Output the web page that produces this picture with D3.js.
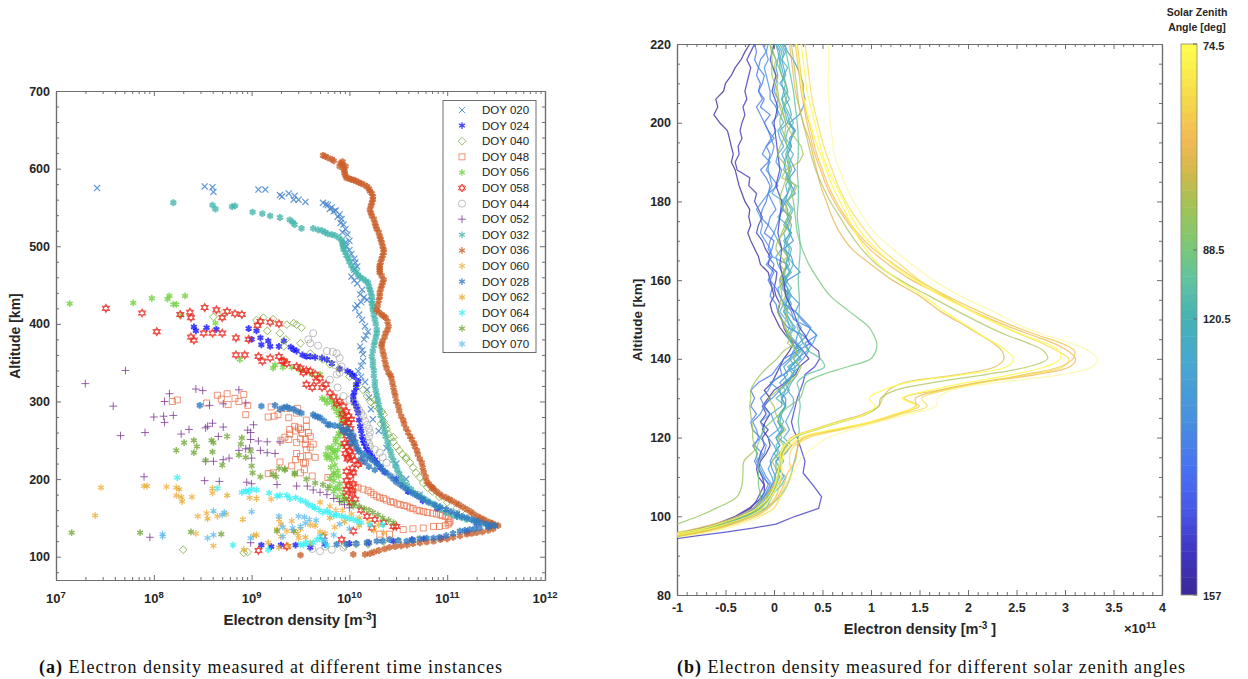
<!DOCTYPE html>
<html><head><meta charset="utf-8">
<script src="https://cdn.jsdelivr.net/npm/d3@7/dist/d3.min.js"></script>
<style>html,body{margin:0;background:#fff}svg{display:block}text{font-family:"Liberation Sans",Arial,sans-serif}</style>
</head><body><svg id="c" width="1248" height="679"></svg>
<script>
// ---------- panel (a): each pair is [log10 electron density, altitude km] ----------
const doy020=[[7.42,575],[8.52,577],[8.6,576],[8.61,570],[9.07,573],[9.14,573],[9.29,566],[9.31,564],[9.38,568],[9.44,565],[9.43,560],[9.48,560],[9.55,557],[9.73,556],[9.76,554],[9.78,553],[9.8,548],[9.82,550],[9.84,545],[9.86,546],[9.88,538],[9.9,541],[9.92,535],[9.91,530],[9.94,528],[9.96,522],[9.93,518],[9.98,515],[10,507],[9.96,505],[9.97,500],[10,495],[10.02,490],[10.05,484],[10.06,479],[10.08,474],[10.05,470],[10.02,461],[10.05,456],[10.08,452],[10.13,444],[10.11,438],[10.15,434],[10.18,431],[10.12,428],[10.08,424],[10.06,420],[10.1,412],[10.13,405],[10.16,397],[10.19,390],[10.17,385],[10.15,380],[10.11,371],[10.13,366],[10.14,361],[10.14,352],[10.12,346],[10.09,339],[10.12,332],[10.16,325],[10.18,315],[10.2,305],[10.22,290],[10.24,277],[10.3,262],[10.38,240],[10.48,220],[10.58,200],[10.72,180],[10.9,165],[11.1,155],[11.3,147]];
const doy024=[[8.41,396],[8.43,391],[8.54,395],[8.64,393],[8.97,394],[9.05,391],[9,380],[9.09,382],[9.1,373],[9.17,378],[9.19,371],[9.28,371],[9.33,378],[9.4,370],[9.43,367],[9.46,365],[9.52,360],[9.56,358],[9.6,358],[9.65,357],[9.72,356],[9.77,354],[9.82,349],[9.9,342],[9.98,339],[10.01,337],[10.03,334],[10.05,332],[10.09,326],[10.07,322],[10.07,318],[10.05,312],[10.04,307],[10.04,302],[10.05,298],[10.07,294],[10.08,290],[10.09,285],[10.1,276],[10.11,268],[10.12,262],[10.13,255],[10.14,250],[10.15,246],[10.17,242],[10.18,238],[10.21,234],[10.23,229],[10.26,225],[10.28,221],[10.32,215],[10.36,209],[10.48,200],[10.6,184],[10.75,172],[10.9,162],[11.1,152],[11.3,143],[11.44,139],[11.2,132],[10.94,124],[10.76,123],[10.64,122],[10.45,120],[10.2,118],[10,117],[9.75,116],[9.6,112],[9.45,115],[9.3,115],[9.2,113],[9.1,115]];
const doy040=[[8.3,109],[8.61,409],[8.71,414],[8.92,105],[8.96,106],[9.05,405],[9.12,408],[9.22,406],[9.36,399],[9.46,399],[9.16,391],[9.29,388],[9.33,371],[9.5,375],[9.43,401],[9.51,395],[9.35,380],[9.6,362],[9.73,354],[9.8,348],[9.9,342],[10,332],[10.08,322],[10.14,315],[10.18,307],[10.22,299],[10.26,295],[10.3,291],[10.33,287],[10.35,283],[10.35,274],[10.37,269],[10.38,264],[10.4,258],[10.42,253],[10.45,248],[10.48,242],[10.51,237],[10.54,232],[10.58,226],[10.62,221],[10.65,215],[10.68,208],[10.72,202],[10.755,195],[10.8,189],[10.85,184],[10.92,177],[11,170],[11.1,163],[11.2,156],[10.07,116],[10.19,116],[10.35,120],[10.5,119],[10.7,122],[9.95,114],[10.32,271],[10.26,302],[10.45,254],[10.58,228]];
const doy048=[[8.19,300],[8.24,302],[8.54,298],[8.65,308],[8.69,303],[8.75,310],[8.76,296],[8.83,304],[8.87,300],[8.92,309],[8.96,295],[8.94,283],[9.2,293],[9.17,280],[9.23,281],[9.27,283],[9.35,291],[9.47,291],[9.38,279],[9.56,276],[9.39,264],[9.44,268],[9.48,266],[9.56,268],[9.39,258],[9.45,262],[9.52,259],[9.3,250],[9.34,254],[9.38,251],[9.46,247],[9.5,252],[9.55,251],[9.6,255],[9.46,233],[9.56,238],[9.6,241],[9.29,222],[9.45,225],[9.5,229],[9.55,221],[9.41,217],[9.54,212],[9.22,208],[9.17,207],[9.5,208],[9.46,285],[9.5,264],[9.58,260],[9.55,245],[9.63,245],[9.58,230],[9.65,228],[9.53,221],[9.62,204],[9.78,202],[10,193],[10.03,192],[10.06,190],[10.09,189],[10.14,187],[10.19,185],[10.22,183],[10.25,180],[10.28,178],[10.31,176],[10.35,175],[10.38,173],[10.42,171],[10.45,170],[10.49,168],[10.52,167],[10.56,166],[10.59,165],[10.62,163],[10.65,162],[10.69,160],[10.72,159],[10.76,158],[10.8,157],[10.85,156],[10.89,155],[10.93,154],[10.95,153],[10.98,152],[11.01,149],[11.03,146],[11.02,144],[11.01,142],[10.98,140],[10.92,139],[10.86,139],[10.755,137],[10.65,136],[10.55,135],[10.41,129],[10.31,129]];
const doy056=[[7.14,426],[7.79,427],[7.98,433],[8.14,432],[8.16,436],[8.2,425],[8.23,425],[8.32,436],[8.28,411],[8.63,401],[8.88,354],[9.24,347],[9.22,343],[9.32,344],[9.41,344],[9.5,340],[9.62,335],[9.7,335],[9.72,304],[9.75,302],[9.77,298],[9.8,304],[9.82,299],[9.87,296],[9.84,292],[9.9,290],[9.87,287],[9.92,285],[9.89,282],[9.94,281],[9.96,276],[9.92,274],[9.96,272],[9.9,268],[9.93,262],[9.89,259],[9.9,255],[9.86,252],[9.86,247],[9.91,244],[9.82,241],[9.78,240],[9.88,238],[9.83,236],[9.85,234],[9.76,232],[9.8,230],[9.87,228],[9.82,225],[9.77,227],[9.85,218],[9.81,215],[9.88,211],[9.84,208],[9.89,204],[9.84,205],[9.8,201],[9.84,198],[9.9,194],[9.8,191],[9.86,189],[9.9,187],[9.84,184],[9.93,180],[9.88,177],[9.97,174],[9.92,171],[10,168],[10.04,165]];
const doy058=[[7.51,420],[7.88,414],[8.03,390],[8.27,412],[8.37,415],[8.38,408],[8.52,421],[8.64,418],[8.7,408],[8.75,416],[8.83,413],[8.9,412],[8.51,388],[8.6,388],[8.7,388],[8.38,383],[8.41,379],[8.84,382],[8.97,380],[9.06,398],[9.09,403],[9.19,402],[9.28,400],[8.84,360],[8.93,360],[9.07,358],[9.11,352],[9.19,356],[9.28,358],[9.33,352],[9.36,349],[9.46,345],[9.53,337],[9.56,322],[9.6,339],[9.31,352],[9.5,343],[9.56,340],[9.65,335],[9.7,330],[9.66,326],[9.62,318],[9.76,322],[9.72,318],[9.8,311],[9.84,306],[9.9,300],[9.87,297],[9.94,294],[9.97,287],[9.93,284],[9.99,281],[10.02,277],[9.94,276],[9.99,273],[9.96,268],[10.01,265],[9.94,262],[9.99,260],[9.97,256],[10.03,253],[10.01,247],[9.95,246],[9.97,242],[10.04,240],[10,236],[9.96,233],[10.03,230],[9.99,228],[10.05,224],[9.98,226],[10.09,219],[10.12,222],[10.03,214],[9.97,210],[10.04,208],[10.01,204],[9.97,198],[10.04,194],[9.99,191],[9.97,187],[10.03,185],[10.03,181],[9.97,178],[10.06,174],[10.02,170],[10.12,160],[10.18,152],[10.26,148],[10.35,144],[10.45,139],[9.07,108],[9.36,113],[9.73,126],[9.92,122],[10.04,133],[10.23,137],[10.48,139]];
const doy044=[[9.63,388],[9.6,375],[9.58,380],[9.68,372],[9.77,365],[9.83,364],[9.87,362],[9.9,356],[9.85,347],[9.92,345],[9.87,335],[9.9,337],[9.8,328],[9.88,318],[9.94,307],[10,302],[10.06,298],[10.08,293],[10.1,289],[10.12,285],[10.14,281],[10.16,275],[10.18,270],[10.2,265],[10.21,260],[10.2,255],[10.18,250],[10.2,246],[10.21,242],[10.26,238],[10.31,234],[10.34,228],[10.38,221],[10.5,205],[10.7,180],[11,158],[11.3,146],[9.7,107],[9.82,109],[9.94,112],[10.19,118],[9.62,110],[9.75,113]];
const doy052=[[7.3,323],[7.71,340],[7.585,294],[7.66,256],[7.91,260],[8,280],[8.1,281],[8.2,282],[8.11,273],[8.11,300],[8.16,310],[8.43,316],[8.5,314],[8.87,315],[8.57,295],[8.71,297],[8.94,298],[8.36,264],[8.28,258],[8.53,266],[8.6,272],[8.71,267],[9.02,270],[8.99,260],[8.66,255],[8.99,251],[9.07,249],[9.16,248],[9.29,248],[8.61,223],[8.71,225],[8.77,227],[8.87,237],[8.94,239],[9.09,237],[9,227],[9.16,234],[9.24,233],[7.9,203],[8.52,198],[8.67,197],[8.95,196],[9,194],[9.26,193],[9.46,191],[9.57,191],[7.96,125],[8.99,118],[9.63,186],[9.7,183],[9.77,180],[9.84,175],[9.9,171],[9.95,167],[10,163],[8.55,268],[8.96,263],[8.53,223],[8.98,240]];
const doy032=[[8.2,556],[8.6,553],[8.63,548],[8.8,551],[8.83,552],[9.01,544],[9.11,542],[9.19,539],[9.29,537],[9.39,534],[9.42,531],[9.44,528],[9.51,523],[9.63,523],[9.68,521],[9.72,520],[9.75,518],[9.78,516],[9.82,515],[9.85,514],[9.89,511],[9.92,508],[9.93,505],[9.93,502],[9.94,499],[9.94,496],[9.96,492],[9.97,488],[9.99,484],[10,480],[10.02,475],[10.04,471],[10.07,467],[10.09,463],[10.11,460],[10.14,458],[10.17,455],[10.19,453],[10.2,448],[10.21,444],[10.22,440],[10.23,435],[10.23,430],[10.23,426],[10.24,422],[10.24,418],[10.25,412],[10.26,406],[10.27,400],[10.28,393],[10.28,388],[10.27,383],[10.26,377],[10.25,372],[10.24,365],[10.23,358],[10.24,352],[10.24,346],[10.25,340],[10.25,333],[10.26,326],[10.26,320],[10.27,314],[10.28,308],[10.29,302],[10.3,296],[10.31,289],[10.32,282],[10.34,275],[10.35,268],[10.36,261],[10.37,255],[10.39,248],[10.4,242],[10.42,236],[10.43,230],[10.45,224],[10.47,217],[10.49,212],[10.51,207],[10.53,202],[10.55,197],[10.59,192],[10.63,187],[10.67,182],[10.72,178],[10.76,175],[10.8,172],[10.85,168],[10.89,165],[10.94,161],[10.99,157],[11.05,154],[11.1,152],[11.15,150],[11.2,148],[11.27,146],[11.33,144],[11.4,142],[11.47,140]];
const doy036=[[9.73,617],[9.75,616],[9.78,614],[9.82,612],[9.84,610],[9.91,607],[9.93,609],[9.9,603],[9.93,605],[9.94,600],[9.96,603],[9.95,597],[9.95,594],[9.96,591],[9.97,588],[10,587],[10.02,586],[10.05,585],[10.07,584],[10.1,582],[10.12,581],[10.15,579],[10.18,577],[10.2,574],[10.21,571],[10.23,568],[10.24,564],[10.24,560],[10.23,556],[10.22,552],[10.21,547],[10.22,543],[10.23,539],[10.25,535],[10.26,530],[10.27,526],[10.28,522],[10.3,518],[10.31,513],[10.32,509],[10.33,505],[10.34,500],[10.35,496],[10.35,492],[10.34,488],[10.33,484],[10.32,479],[10.31,475],[10.31,472],[10.31,469],[10.31,466],[10.33,462],[10.35,457],[10.34,453],[10.33,449],[10.32,445],[10.31,440],[10.31,435],[10.3,430],[10.29,424],[10.28,418],[10.3,415],[10.33,412],[10.35,410],[10.37,408],[10.39,403],[10.4,397],[10.39,392],[10.37,388],[10.36,383],[10.34,378],[10.33,374],[10.33,371],[10.34,365],[10.35,360],[10.36,354],[10.37,348],[10.38,343],[10.4,337],[10.42,334],[10.43,330],[10.44,324],[10.45,318],[10.46,312],[10.47,307],[10.48,300],[10.5,294],[10.51,288],[10.53,281],[10.55,276],[10.56,271],[10.58,265],[10.6,260],[10.62,255],[10.64,251],[10.66,246],[10.67,242],[10.69,237],[10.7,232],[10.72,226],[10.74,221],[10.75,215],[10.76,209],[10.78,203],[10.79,197],[10.81,194],[10.83,191],[10.85,189],[10.86,187],[10.89,184],[10.92,181],[10.95,178],[10.99,176],[11.02,174],[11.05,172],[11.09,169],[11.12,167],[11.16,164],[11.2,161],[11.24,158],[11.27,155],[11.31,152],[11.34,150],[11.37,148],[11.4,146],[11.44,144],[11.46,143],[11.49,141],[11.52,140],[11.47,136],[11.42,134],[11.36,132],[11.3,131],[11.25,130],[11.2,129],[11.13,127],[11.06,125],[11,123],[10.93,122],[10.86,120],[10.79,119],[10.72,118],[10.65,117],[10.59,115],[10.53,114],[10.47,113],[10.41,112],[10.36,110],[10.3,108],[10.25,106],[10.21,104],[10.16,103],[10.04,103],[9.5,102]];
const doy060=[[7.46,189],[7.9,191],[8.13,190],[8.23,189],[8.23,179],[8.39,177],[8.6,182],[8.98,176],[9.2,174],[8.45,152],[8.54,156],[8.65,152],[8.74,155],[8.43,130],[8.61,114],[9.28,148],[9.41,146],[9.48,124],[9.7,170],[9.8,165],[9.86,160],[9.93,160],[10.02,155],[10.1,150],[10.2,145],[10.3,141],[9.6,141],[9.7,132],[9.85,138],[9.3,126],[9.36,133]];
const doy028=[[8.47,295],[9.1,294],[9.24,295],[9.29,290],[9.33,292],[9.36,293],[9.39,291],[9.43,290],[9.47,287],[9.51,285],[9.63,283],[9.65,281],[9.68,280],[9.7,279],[9.74,275],[9.78,270],[9.8,270],[9.85,269],[9.9,268],[9.93,263],[9.96,260],[9.98,265],[10.01,260],[10.04,256],[10.04,250],[10.07,242],[10,255],[10.1,235],[10.02,246],[10.06,248],[10.14,232],[10.09,238],[10.18,230],[10.12,226],[10.21,227],[10.16,222],[10.24,224],[10.28,220],[10.2,216],[10.31,217],[10.26,212],[10.34,212],[10.38,208],[10.42,204],[10.45,200],[10.48,196],[10.52,193],[10.55,190],[10.585,187],[10.63,183],[10.67,180],[10.71,177],[10.755,174],[10.81,170],[10.87,167],[10.93,164],[10.99,161],[11.04,158],[11.1,155],[11.15,152],[11.2,150],[11.25,148],[11.3,146],[11.35,144],[11.4,142],[11.45,141],[11.49,140],[11.42,138],[11.33,137],[11.28,136],[11.23,135],[11.18,134],[11.13,133],[11.06,130],[10.99,127],[10.92,125],[10.86,124],[10.79,124],[10.72,123],[10.65,121],[10.585,120],[10.5,121],[10.41,122],[10.34,120],[10.28,120],[10.18,118],[10.07,117],[9.97,116],[9.87,116]];
const doy062=[[7.4,153],[7.93,191],[8.26,187],[8.28,177],[8.29,171],[8.6,188],[8.75,179],[9.05,175],[8.91,148],[8.55,149],[8.92,109],[9.05,128],[9.02,127],[9.26,135],[9.43,133],[9.17,118],[9.28,112],[9.38,114],[9.55,125],[9.65,140],[9.8,150],[9.95,145],[10.1,140],[10.25,134],[10.35,131],[9.6,118],[9.75,130],[9.47,130],[9.5,136],[9.3,142]];
const doy064=[[8.24,202],[8.65,188],[8.9,183],[8.94,185],[8.97,184],[9,187],[9.05,186],[9.18,182],[9.26,178],[9.29,179],[9.36,179],[9.39,175],[9.45,176],[9.5,173],[9.55,171],[9.58,167],[9.62,165],[9.65,163],[9.69,160],[9.73,157],[9.77,159],[9.8,156],[9.84,153],[9.87,154],[9.92,152],[9.96,151],[10,149],[10.04,148],[10.08,146],[10.12,144],[10.21,141],[10.34,141],[8.81,115],[9.17,109],[9.5,116],[9.56,118],[9.53,115],[9.63,118],[9.67,122],[9.7,126],[9.77,115],[9.72,121]];
const doy066=[[7.16,131],[7.86,131],[8.23,237],[8.31,247],[8.41,250],[8.44,242],[8.41,234],[8.53,224],[8.59,250],[8.61,247],[8.6,235],[8.7,218],[8.75,255],[8.9,253],[8.89,245],[8.87,231],[8.94,228],[8.99,236],[9,217],[9.01,208],[9.09,203],[9.22,206],[9.25,203],[9.34,212],[9.28,214],[9.44,208],[9.56,200],[8.38,132],[8.69,129],[9.26,133],[9.43,133],[9.34,213],[9.44,206],[9.65,195],[9.73,193],[9.78,188],[9.95,174],[10.05,168],[10.1,165],[10.15,162],[10.2,160],[10.24,157],[10.29,154],[10.34,150],[10.4,147],[10.45,144]];
const doy070=[[8.09,126],[8.09,129],[8.55,124],[8.61,128],[8.61,159],[8.7,154],[8.72,157],[9,158],[8.99,124],[9.28,152],[9.32,138],[9.32,126],[9.48,152],[9.54,151],[9.59,148],[9.5,139],[9.42,137],[9.66,147],[9.75,122],[9.84,128],[9.55,143],[9.9,142],[10,136]];
const doyNames=["DOY 020","DOY 024","DOY 040","DOY 048","DOY 056","DOY 058","DOY 044","DOY 052","DOY 032","DOY 036","DOY 060","DOY 028","DOY 062","DOY 064","DOY 066","DOY 070"];
const doyData=[doy020,doy024,doy040,doy048,doy056,doy058,doy044,doy052,doy032,doy036,doy060,doy028,doy062,doy064,doy066,doy070];
const doyColors=["#3d7fc9","#1212ff","#7dab3a","#ea6a42","#6fd03c","#e9281e","#9c9c9c","#7e3a96","#45b5ad","#cb5f2b","#edb040","#2d78bf","#e6a92c","#35f0f4","#72a63a","#5cbcf0"];
const doyMarks=["x","*","d","s","*","h","o","+","*","*","*","*","*","*","*","*"];
const doyStroke=[1.2,1.9,1,.9,1.6,1.1,.8,1,2.2,2.3,1.3,2.2,1.3,1.6,1.5,1.3];
const altTicksA=[100,200,300,400,500,600,700];
const neTicks=[7,8,9,10,11,12];

// ---------- panel (b): values in units of 1e9 m^-3, one per altitude level ----------
const levels=[94,95,96,97,98,100,102,105,108,111,114,117,120,122,124,126,128,130,132,134,136,138,140,142,144,146,148,152,156,160,164,168,172,176,180,184,188,192,196,200,204,208,212,216,220];
const levelsFine=[94,95,96,97,98].concat(d3.range(100,222,2));
const sunA=[-150,-125,-98,-78,-62,-38,-22,-8,0,5,8,10,18,40,65,92,108,112,118,135,190,228,237,235,226,213,200,172,150,122,100,80,68,60,54,48,44,40,36,30,26,22,20,18,16];
const sunB=[-145,-120,-92,-72,-58,-34,-18,-5,1,4,6,8,20,42,68,95,104,98,112,138,195,240,247,240,228,214,202,176,154,128,108,94,84,76,68,60,54,48,42,37,33,29,27,25,23];
const sunC=[-140,-115,-90,-70,-56,-32,-16,-4,2,5,7,10,22,44,70,96,108,110,125,165,218,262,282,278,262,240,222,190,160,130,106,90,78,68,58,50,43,38,34,30,26,24,22,20,18];
const sunD=[-136,-110,-84,-64,-50,-26,-12,-2,4,8,8,12,28,60,100,125,147,132,160,200,245,280,295,294,280,258,238,205,172,145,122,105,90,80,72,64,56,50,46,42,38,34,32,30,28];
const sunE=[-128,-104,-80,-60,-46,-22,-8,2,6,8,6,14,32,66,102,128,150,134,168,212,258,295,308,310,296,272,250,212,178,148,124,102,86,74,64,56,50,44,40,36,32,30,28,26,24];
const sunF=[-124,-100,-76,-58,-44,-20,-6,4,10,14,22,24,30,64,100,126,146,146,172,212,270,305,311,303,288,266,244,206,174,142,118,98,84,72,62,54,48,42,38,34,31,28,26,24,22];
const sunH=[-118,-96,-72,-54,-40,-16,0,6,12,18,16,18,36,70,104,132,158,152,176,216,262,298,304,292,276,256,238,204,176,150,130,110,96,84,74,66,60,54,49,45,41,38,36,34,32];
const sunG=[-112,-90,-66,-48,-34,-12,-1,8,14,20,26,38,56,80,108,140,167,169,182,232,296,328,333,325,306,280,258,226,192,164,142,122,104,92,82,74,68,62,60,58,57,56,56,56,56];
const greenPeak=[-132,-108,-86,-68,-54,-32,-18,-14,-16,-16,-17,-18,-14,-11,-3,6,16,27,30,33,50,76,100,105,106,103,98,78,58,46,36,29,24,22,20,17,16,14,12,6,10,14,8,2,-4];
const tealLine=[-126,-104,-82,-64,-50,-28,-10,6,14,18,21,24,25,26,25,26,27,26,26,24,34,52,48,36,30,28,24,26,26,25,26,27,26,24,25,25,24,25,25,24,22,20,17,14,11];
const oliveLine=[-165,-138,-122,-110,-100,-78,-60,-38,-33,-32,-31,-20,-22,-22,-23,-24,-25,-24,-24,-20,-14,-6,3,10,20,14,12,4,8,6,12,2,8,14,6,10,15,4,10,12,6,4,-2,-2,-4];
const indigoBump=[-110,-80,-50,-22,2,22,46,49,40,30,32,28,24,20,18,20,22,24,27,30,32,42,47,46,36,32,26,20,12,10,6,8,4,6,8,2,6,4,2,0,4,-2,2,-4,0];
const indigoA=[-135,-112,-92,-75,-60,-40,-26,-16,-10,-10,
 -12,-16,-14,-8,-4,-6,-12,-9,-4,-10,
 -4,-10,-2,2,6,10,16,20,12,6,
 2,-2,-4,0,-2,-4,-6,-14,-16,-20,
 -24,-27,-24,-26,-25,-30,-33,-36,-38,-40,
 -44,-42,-44,-46,-48,-56,-62,-58,-60,-52,
 -50,-44,-40,-34,-30,-25];
const indigoB=[-128,-106,-88,-70,-56,-38,-24,-18,-14,-10,
 -16,-18,-16,-14,-10,-12,-6,-14,-8,-12,
 -6,0,12,22,26,36,30,22,14,10,
 8,4,6,2,0,2,3,-6,-4,-9,
 -12,-18,-16,-12,-16,-20,-18,-26,-25,-38,
 -40,-36,-37,-33,-35,-33,-30,-32,-28,-30,
 -28,-26,-24,-28,-24,-20];
const blueA=[-132,-110,-88,-70,-54,-34,-20,-12,-8,-4,
 -12,-16,-20,-17,-22,-14,-22,-24,-18,-24,
 -20,-24,-16,-2,4,10,24,38,30,14,
 8,4,2,-4,-2,-6,-2,0,-6,-2,
 0,-10,-6,-14,-12,-8,-6,-4,-8,-14,
 -6,-4,-8,-3,-6,-10,-4,-14,-10,-16,
 -14,-18,-16,-20,-18,-20];
const blueF=[-129,-107,-87,-68,-54,-32,-20,-14,-10,-6,
 -10,-14,-18,-12,-20,-16,-18,-22,-14,-10,
 -14,-6,-2,8,6,16,20,26,34,38,
 30,22,10,6,2,-4,0,-8,-2,-6,
 -4,0,-6,-4,2,-2,-6,4,-2,-8,
 -4,-12,-8,0,-6,-10,-14,-18,-12,-16,
 -12,-10,-16,-14,-8,-12];
const blueB=[-138,-114,-92,-74,-58,-36,-22,-14,-6,-2,
 2,-2,-4,0,6,2,8,4,6,12,
 12,4,14,10,22,30,36,32,44,36,
 20,18,12,16,10,14,27,20,18,10,
 20,16,14,18,8,12,22,18,16,22,
 18,14,18,16,22,16,26,30,32,30,
 30,27,24,20,14,11];
const blueC=[-122,-100,-80,-62,-48,-30,-14,-8,-6,-2,
 -8,-12,-16,-10,-8,-14,-10,-14,-4,-12,
 -2,6,-4,10,18,24,34,40,44,36,
 28,22,26,18,10,6,10,14,-2,-4,
 -9,-14,-12,-14,-18,-12,-6,-2,-4,-6,
 -6,-2,0,-3,2,-2,4,2,-4,-4,
 -6,-8,-10,-6,-8,-6];
const blueD=[-126,-104,-84,-66,-52,-30,-16,-10,-6,0,
 -2,-6,-2,4,0,-6,4,0,-3,8,
 8,12,6,14,10,18,26,22,24,28,
 22,14,10,6,4,14,8,4,2,8,
 4,0,3,6,8,10,-2,2,6,8,
 2,4,10,6,4,10,6,2,4,0,
 2,4,2,4,6,2];
const blueE=[-120,-98,-78,-60,-46,-26,-12,-6,-2,4,
 10,6,2,12,18,10,16,12,16,20,
 20,14,18,24,16,28,20,30,26,18,
 12,6,10,14,8,12,10,16,14,10,
 12,10,14,4,10,8,14,12,16,10,
 12,8,14,10,6,14,12,10,16,12,
 6,12,10,8,12,8];
const tealA=[-130,-108,-86,-68,-52,-32,-18,-12,-8,2,
 6,2,2,8,14,4,10,6,8,12,
 8,16,10,20,14,26,30,24,16,22,
 16,12,18,14,14,8,16,12,16,18,
 12,16,18,14,14,10,14,18,12,16,
 14,12,16,18,20,16,14,10,8,10,
 8,10,8,6,8,4];
const tealB=[-124,-102,-82,-62,-48,-28,-14,-8,-4,2,
 0,4,6,0,6,2,10,4,6,12,
 8,6,14,20,22,16,24,18,12,16,
 14,10,12,18,14,10,18,12,14,16,
 10,18,12,16,20,14,18,22,14,18,
 16,20,14,18,22,14,18,16,12,10,
 12,8,6,6,4,2];
const tealC=[-118,-96,-76,-58,-44,-24,-8,-4,0,8,
 12,4,10,6,2,8,4,10,6,12,
 2,12,16,18,26,20,28,18,14,20,
 16,10,16,12,18,12,16,20,14,12,
 14,18,10,14,18,12,14,16,14,12,
 10,14,18,12,14,20,16,12,8,14,
 12,10,14,8,10,6];
const oliveB=[-126,-100,-78,-60,-48,-26,-14,-8,-6,0,
 4,2,-2,6,10,4,12,6,2,0,
 -6,4,16,24,28,20,24,14,18,10,
 12,14,8,12,10,8,12,6,14,8,
 4,10,16,18,12,14,20,24,8,12,
 26,30,28,22,16,12,10,8,4,2,
 4,2,0,2,-2,0];
const sunLines=[sunG,sunA,sunC,sunF,sunE,sunB,sunH,sunD];
const sunAngles=[76,82,85,81,80,75,78,75];
const sunAlpha=[.4,.8,.75,.8,.8,.85,.75,.85];
const fineLines=[indigoA,indigoB,blueA,blueF,blueB,blueC,blueD,blueE,tealA,tealB,tealC,oliveB];
const fineAngles=[157,152,139,137,135,133,130,127,124,121,118,85];
const smoothLines=[indigoBump,tealLine,greenPeak,oliveLine];
const smoothAngles=[150,105,89,86];
const barAngles=[74.5,88.5,120.5,157];
const barPositions=[44,250,319,595];
const barStopY=[44,100,140,170,200,240,280,319,360,420,470,510,550,595];
const barStopColors=["#ffff4e","#f5d84a","#f2b955","#d4b84a","#a9c154","#80c870","#61c2a0","#46b1b4","#48a8d0","#4890e0","#4870f2","#4858e8","#4035c2","#3a2a98"];
const altTicksB=[80,100,120,140,160,180,200,220];
const densTicksB=[-1,-.5,0,.5,1,1.5,2,2.5,3,3.5,4];

const svg=d3.select("#c");
const gray="#6e6e6e", ink="#262626";
const A={l:56,r:545,t:91,b:580}, B={l:677,r:1162,t:44,b:595};
const xA=d3.scaleLog().domain([1e7,1e12]).range([A.l,A.r]);
const yA=d3.scaleLinear().domain([70,700]).range([A.b,A.t]);
const xB=d3.scaleLinear().domain([-1,4]).range([B.l,B.r]);
const yB=d3.scaleLinear().domain([80,220]).range([B.b,B.t]);

function frame(P,x,y,xMaj,xMin,yMaj,yMin,xFmt,yFmt){
  const g=svg.append("g");
  const draw=(vals,len,fmtX,fmtY)=>{
    g.append("g").attr("transform",`translate(0,${P.b})`).call(d3.axisBottom(x).tickValues(vals.x).tickSizeInner(-len).tickSizeOuter(0).tickFormat(fmtX)).call(s=>s.selectAll("text").attr("y",8));
    g.append("g").attr("transform",`translate(0,${P.t})`).call(d3.axisTop(x).tickValues(vals.x).tickSizeInner(-len).tickSizeOuter(0).tickFormat(""));
    g.append("g").attr("transform",`translate(${P.l},0)`).call(d3.axisLeft(y).tickValues(vals.y).tickSizeInner(-len).tickSizeOuter(0).tickPadding(6).tickFormat(fmtY));
    g.append("g").attr("transform",`translate(${P.r},0)`).call(d3.axisRight(y).tickValues(vals.y).tickSizeInner(-len).tickSizeOuter(0).tickFormat(""));
  };
  draw({x:xMin,y:yMin},3,"","");
  draw({x:xMaj,y:yMaj},5,xFmt,yFmt);
  g.selectAll("path.domain").attr("stroke",gray).attr("stroke-width",1.2);
  g.selectAll("line").attr("stroke",gray);
  g.selectAll("text").attr("fill",ink).attr("font-size",12.5).attr("font-weight","bold").attr("font-family","Liberation Sans");
  return g;
}
// panel (a) axes
const minorLog=[];neTicks.slice(0,-1).forEach(e=>d3.range(2,10).forEach(m=>minorLog.push(m*10**e)));
frame(A,xA,yA,neTicks.map(e=>10**e),minorLog,altTicksA,d3.range(80,700,20).filter(v=>v%100),"",d3.format("d"));
neTicks.forEach(e=>{
  const t=svg.append("text").attr("x",xA(10**e)).attr("y",603).attr("text-anchor","middle").attr("font-weight","bold").attr("font-size",13).attr("fill",ink);
  t.append("tspan").text("10");
  t.append("tspan").attr("dy",-5).attr("font-size",9.5).text(e);
});
function eLabel(x,y,suffix,size){
  const t=svg.append("text").attr("x",x).attr("y",y).attr("text-anchor","middle").attr("font-weight","bold").attr("font-size",size).attr("fill",ink);
  t.append("tspan").text("Electron density [m");
  t.append("tspan").attr("dy",-5).attr("font-size",10).text("-3");
  t.append("tspan").attr("dy",5).text(suffix);
}
eLabel(300,625,"]",15);
svg.append("text").attr("transform","translate(20,336) rotate(-90)").attr("text-anchor","middle").attr("font-weight","bold").attr("font-size",14).attr("fill",ink).text("Altitude [km]");

// markers
const hex=()=>{const p=d3.path(),r=4;[0,1].forEach(o=>{d3.range(3).forEach(i=>{const a=(i*120+(o?60:0)-90)*Math.PI/180,px=r*Math.cos(a),py=r*Math.sin(a);i?p.lineTo(px,py):p.moveTo(px,py);});p.closePath();});return p.toString();};
const markPath={
 "x":d3.symbol(d3.symbolTimes,26)(),
 "*":d3.symbol(d3.symbolAsterisk,32)(),
 "+":d3.symbol(d3.symbolPlus,22)(),
 "d":d3.symbol(d3.symbolDiamond2,38)(),
 "s":d3.symbol(d3.symbolSquare2,46)(),
 "o":d3.symbol(d3.symbolCircle,40)(),
 "h":hex()
};
const legendWidth={"x":1,"*":1.3,"+":1,"d":.9,"s":.9,"o":.8,"h":1};
svg.append("clipPath").attr("id","ca").append("rect").attr("x",A.l).attr("y",A.t).attr("width",A.r-A.l).attr("height",A.b-A.t);
const plotA=svg.append("g").attr("clip-path","url(#ca)");
doyData.forEach((rows,i)=>{
  plotA.append("g").selectAll("path").data(rows).join("path")
    .attr("transform",d=>`translate(${xA(10**d[0])},${yA(d[1])})`)
    .attr("d",markPath[doyMarks[i]]).attr("fill","none")
    .attr("stroke",doyColors[i]).attr("stroke-width",doyStroke[i]).attr("stroke-opacity",.8);
});
// legend
const leg=svg.append("g");
leg.append("rect").attr("x",443).attr("y",100.5).attr("width",93).attr("height",252).attr("fill","#fff").attr("stroke",gray).attr("stroke-width",1);
const legY=d3.scalePoint().domain(doyNames).range([110,344]);
doyNames.forEach((n,i)=>{
  leg.append("path").attr("transform",`translate(462,${legY(n)})`).attr("d",markPath[doyMarks[i]]).attr("fill","none").attr("stroke",doyColors[i]).attr("stroke-width",legendWidth[doyMarks[i]]).attr("stroke-opacity",.8);
  leg.append("text").attr("x",482).attr("y",legY(n)+4).attr("font-size",11.5).attr("fill","#222").text(n);
});

// panel (b) axes
const minorB=d3.range(-10,41).map(v=>v/10).filter(v=>Math.abs(v*2%1)>1e-6);
frame(B,xB,yB,densTicksB,minorB,altTicksB,d3.range(85,220,5).filter(v=>v%20),v=>String(v),d3.format("d"));
eLabel(920,634," ]",14.5);
const mult=svg.append("text").attr("x",1124).attr("y",633).attr("font-weight","bold").attr("font-size",13).attr("fill",ink);
mult.append("tspan").text("×10");
mult.append("tspan").attr("dy",-5).attr("font-size",9.5).text("11");
svg.append("text").attr("transform","translate(642,320) rotate(-90)").attr("text-anchor","middle").attr("font-weight","bold").attr("font-size",13.5).attr("fill",ink).text("Altitude [km]");

const angleToY=d3.scaleLinear().domain(barAngles).range(barPositions);
const yToColor=d3.scaleLinear().domain(barStopY).range(barStopColors).interpolate(d3.interpolateRgb);
const lineB=d3.line().x(d=>xB(d[0]/100)).y(d=>yB(d[1]));
svg.append("clipPath").attr("id","cb").append("rect").attr("x",B.l).attr("y",B.t).attr("width",B.r-B.l).attr("height",B.b-B.t);
const plotB=svg.append("g").attr("clip-path","url(#cb)");
const drawLine=(vals,alts,ang,op,curve)=>plotB.append("path").datum(vals.map((v,i)=>[v,alts[i]]))
  .attr("d",lineB.curve(curve)).attr("fill","none").attr("stroke",yToColor(angleToY(ang))).attr("stroke-width",1.25).attr("stroke-opacity",op).attr("stroke-linejoin","round");
fineLines.forEach((v,i)=>drawLine(v,levelsFine,fineAngles[i],.8,d3.curveLinear));
smoothLines.forEach((v,i)=>drawLine(v,levels,smoothAngles[i],.8,i?d3.curveCatmullRom:d3.curveLinear));
sunLines.forEach((v,i)=>drawLine(v,levels,sunAngles[i],sunAlpha[i],d3.curveCatmullRom));

// colour bar
const barX=1181,barW=16;
const cells=d3.range(B.t,B.b,8.6);
svg.append("g").selectAll("rect").data(cells).join("rect").attr("x",barX).attr("y",d=>d).attr("width",barW).attr("height",d=>Math.min(9,B.b-d)).attr("fill",d=>yToColor(d+4));
svg.append("rect").attr("x",barX).attr("y",B.t).attr("width",barW).attr("height",B.b-B.t).attr("fill","none").attr("stroke","#8a8a70").attr("stroke-width",.8);
barAngles.forEach(a=>{
  const y=angleToY(a);
  svg.append("line").attr("x1",barX+barW-4).attr("x2",barX+barW).attr("y1",y).attr("y2",y).attr("stroke","#666");
  svg.append("text").attr("x",1203).attr("y",a===74.5?50:a===157?600:y+4).attr("font-weight","bold").attr("font-size",11).attr("fill",ink).text(a);
});
svg.append("text").attr("x",1197).attr("y",16).attr("text-anchor","middle").attr("font-weight","bold").attr("font-size",10.5).attr("fill",ink).text("Solar Zenith");
svg.append("text").attr("x",1197).attr("y",31).attr("text-anchor","middle").attr("font-weight","bold").attr("font-size",10.5).attr("fill",ink).text("Angle [deg]");

// captions
function caption(x,y,len,lead,rest){
  const t=svg.append("text").attr("x",x).attr("y",y).attr("font-size",18).attr("fill","#111").attr("textLength",len).attr("lengthAdjust","spacing").style("font-family","'Liberation Serif',serif");
  t.append("tspan").attr("font-weight","bold").text(lead+" ");
  t.append("tspan").text(rest);
}
caption(39,673,463,"(a)","Electron density measured at different time instances");
caption(677,673,508,"(b)","Electron density measured for different solar zenith angles");
</script></body></html>
